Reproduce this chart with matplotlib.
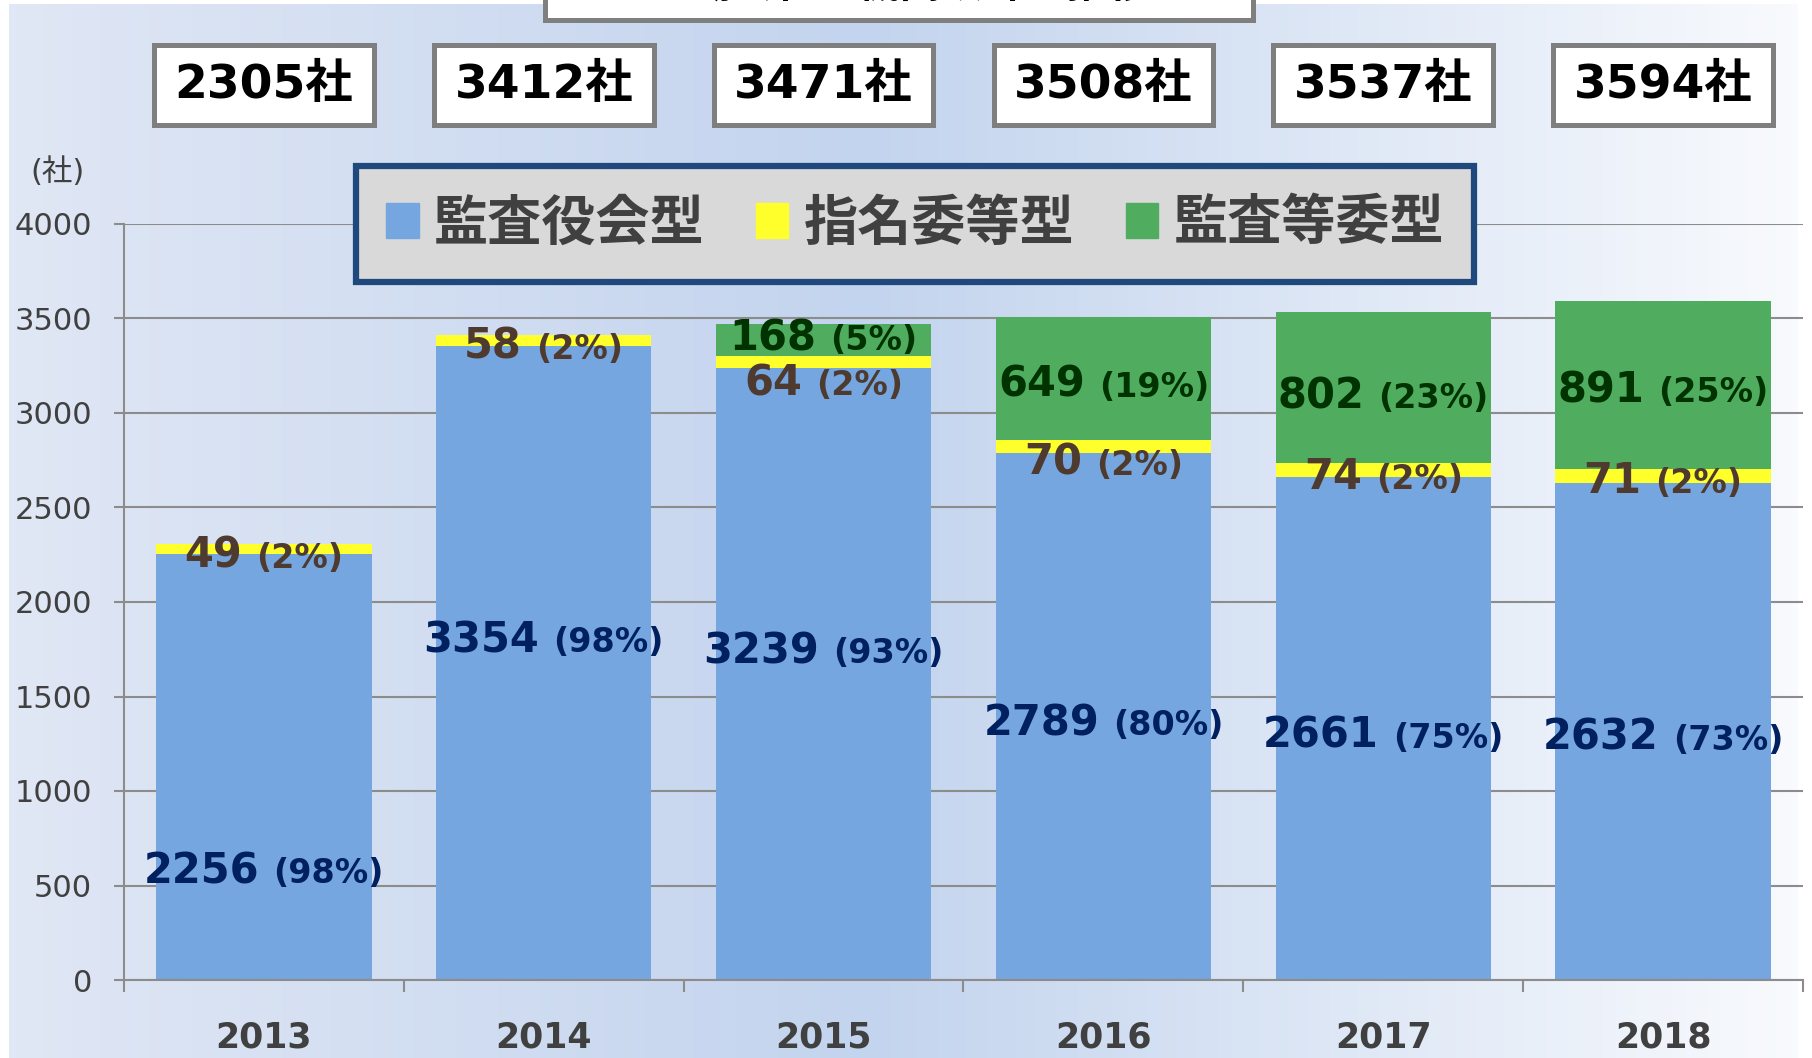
import numpy as np
import matplotlib
matplotlib.use("Agg")
import matplotlib.pyplot as plt
from matplotlib.patches import Patch, Rectangle
from matplotlib.colors import LinearSegmentedColormap
from matplotlib.transforms import offset_copy, blended_transform_factory

# données
years = ["2013", "2014", "2015", "2016", "2017", "2018"]
kansayaku = np.array([2256, 3354, 3239, 2789, 2661, 2632])   # 監査役会型
shimei = np.array([49, 58, 64, 70, 74, 71])                   # 指名委等型
kantoiin = np.array([0, 0, 168, 649, 802, 891])               # 監査等委型
series_names = ["監査役会型", "指名委等型", "監査等委型"]

# position verticale (ligne de base) des étiquettes
blue_lab_y = [513, 1735, 1677, 1296, 1228, 1217]
yellow_lab_y = [2180, 3286, 3095, 2672, 2598, 2577]
green_lab_y = [None, None, 3333, 3085, 3026, 3058]

totals = kansayaku + shimei + kantoiin

c_blue = "#75a6e0"
c_yellow = "#ffff2b"
c_green = "#50ad60"
grey = "#8c8c8c"
txt = "#404040"
cjk = ["DejaVu Sans", "Noto Sans CJK JP"]

W, H = 1812, 1058
fig = plt.figure(figsize=(W / 100, H / 100), dpi=100)
fig.patch.set_facecolor("white")

# fond dégradé
bg = fig.add_axes([9 / W, 0, (1798 - 9) / W, 1 - 4 / H])
cmap = LinearSegmentedColormap.from_list(
    "bg", [(0, "#e0e7f5"), (0.48, "#c3d4ee"), (1, "#f8fafd")])
bg.imshow(np.linspace(0, 1, 512)[None, :], cmap=cmap, aspect="auto", extent=[0, 1, 0, 1])
bg.axis("off")
bg.set_zorder(-2)

ax = fig.add_axes([124 / W, 1 - 980 / H, (1803 - 124) / W, (980 - 224) / H])
ax.patch.set_alpha(0)

x = np.arange(len(years))
bw = 0.77
ax.bar(x, kansayaku, bw, color=c_blue, zorder=2)
ax.bar(x, shimei, bw, bottom=kansayaku, color=c_yellow, zorder=2)
ax.bar(x, kantoiin, bw, bottom=kansayaku + shimei, color=c_green, zorder=2)

ax.set_xlim(-0.5, 5.5)
ax.set_ylim(0, 4000)
ax.set_yticks(np.arange(0, 4001, 500))
ax.yaxis.grid(True, color=grey, lw=1.5)
ax.set_axisbelow(True)
for s in ["top", "right"]:
    ax.spines[s].set_visible(False)
for s in ["left", "bottom"]:
    ax.spines[s].set_color(grey)
    ax.spines[s].set_linewidth(1.5)

ax.set_xticks(x)
ax.set_xticklabels(years, fontsize=25, fontweight="bold", color=txt)
ax.set_xticks(np.arange(-0.5, 6, 1), minor=True)
ax.tick_params(axis="x", which="major", length=0, pad=29)
ax.tick_params(axis="x", which="minor", length=8.6, width=1.5, color=grey)
ax.tick_params(axis="y", length=7, width=1.5, color=grey, pad=16, labelsize=22, labelcolor=txt)

fig.text(58 / W, 1 - 172 / H, "(社)", fontsize=22, color=txt, family=cjk,
         ha="center", va="center")

# étiquettes des segments
fig.canvas.draw()
renderer = fig.canvas.get_renderer()

def put_label(xc, y, num, pct, color):
    t1 = ax.text(xc, y, str(num), fontsize=30, fontweight="bold", color=color,
                 ha="left", va="baseline", zorder=5)
    t2 = ax.text(xc, y, "(%d%%)" % pct, fontsize=24, fontweight="bold", color=color,
                 ha="left", va="baseline", zorder=5)
    w1 = t1.get_window_extent(renderer).width
    w2 = t2.get_window_extent(renderer).width
    gap = 14
    tot = w1 + gap + w2
    t1.set_transform(offset_copy(ax.transData, fig=fig, x=-tot / 2, y=0, units="dots"))
    t2.set_transform(offset_copy(ax.transData, fig=fig, x=-tot / 2 + w1 + gap, y=0, units="dots"))

for i in range(len(years)):
    t = totals[i]
    put_label(i, blue_lab_y[i], kansayaku[i], round(kansayaku[i] / t * 100), "#002060")
    put_label(i, yellow_lab_y[i], shimei[i], round(shimei[i] / t * 100), "#4f3a2f")
    if kantoiin[i] > 0:
        put_label(i, green_lab_y[i], kantoiin[i], round(kantoiin[i] / t * 100), "#003300")

# boîtes des totaux
trans = blended_transform_factory(ax.transData, fig.transFigure)
box_w = 0.785
for i in range(len(years)):
    ax.add_patch(Rectangle((i - box_w / 2, 1 - 125 / H), box_w, 80 / H, transform=trans,
                           facecolor="white", edgecolor="#7f7f7f", lw=3.6,
                           clip_on=False, zorder=6))
    ax.text(i, 1 - 85 / H, "%d社" % totals[i], transform=trans, fontsize=34,
            fontweight="bold", color="black", family=cjk, ha="center", va="center", zorder=7)

# titre (coupé en haut)
fig.patches.append(Rectangle((545 / W, 1 - 20 / H), (1253 - 545) / W, 80 / H,
                             transform=fig.transFigure, figure=fig, facecolor="white",
                             edgecolor="#7f7f7f", lw=3.6))
fig.text(900 / W, 1 - 6 / H, "上場会社の機関設計の推移", fontsize=30, fontweight="bold",
         family=cjk, ha="center", va="bottom", color="black")

# légende
handles = [Patch(color=c) for c in (c_blue, c_yellow, c_green)]
leg = fig.legend(handles, series_names, loc="center", bbox_to_anchor=(915 / W, 1 - 224 / H),
                 ncol=3, prop={"family": "Noto Sans CJK JP", "weight": "bold", "size": 39},
                 labelcolor=txt, handlelength=0.6, handleheight=0.6, handletextpad=0.28,
                 columnspacing=0.95, borderpad=0.56, fancybox=False, framealpha=1)
leg.get_frame().set_edgecolor("#1f497d")
leg.get_frame().set_facecolor("#d9d9d9")
leg.get_frame().set_linewidth(4.5)

fig.savefig("out.png", dpi=100)
